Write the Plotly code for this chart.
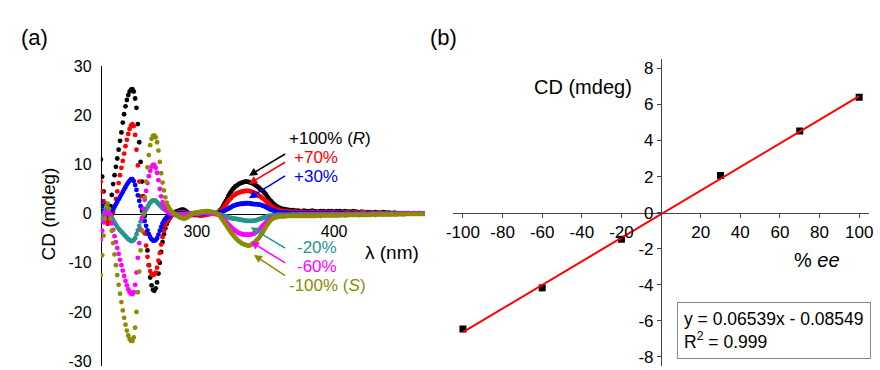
import numpy as np
import plotly.graph_objects as go

# ---------------- Panel (a) data: CD spectra ----------------
# wavelength grid (nm): 1 nm steps 230-360, then 2 nm steps 362-466
wl = np.concatenate([np.arange(230, 361, 1), np.arange(362, 467, 2)])

cd_p100 = [11, 7.5, 4.5, 2, 0, -1, -0.3, 1.5, 3.8, 6, 7.8, 9.5, 11.2, 13, 14.8, 16.5, 18.5, 20.2, 21.8, 23.1,
           24.1, 24.8, 25.2, 25.3, 24.8, 23.4, 21.5, 18.2, 14.5, 10.5, 6.5, 3.5, -0.5, -4, -7.5, -10.5, -13, -14.6, -15.5, -15.7,
           -15.2, -14, -12.2, -10, -7.8, -5.8, -4.2, -3, -2.1, -1.5, -1, -0.6, -0.3, 0, 0.2, 0.4, 0.5, 0.6, 0.7, 0.8,
           0.8, 0.7, 0.5, 0.3, 0.1, 0, -0.1, -0.2, -0.2, -0.2,
           -0.2, -0.2, -0.2, -0.1, -0.1, 0, 0, 0.1, 0.1, 0.1, 0.1, 0, 0, 0, 0.1, 0.2, 0.4, 0.7, 1.0, 1.5,
           2.0, 2.5, 3.0, 3.6, 4.1, 4.5, 4.9, 5.2, 5.5, 5.7, 5.9, 6.1, 6.2, 6.3, 6.4, 6.5, 6.5, 6.5, 6.4, 6.3,
           6.2, 6.1, 5.9, 5.7, 5.5, 5.3, 5.0, 4.8, 4.6, 4.3, 4.0, 3.6, 3.2, 2.8, 2.5, 2.2, 1.9, 1.7, 1.5, 1.3, 1.2,
           1.0, 0.9, 0.8, 0.7, 0.7, 0.6, 0.6, 0.5, 0.6, 0.5,
           0.5, 0.6, 0.5, 0.4, 0.5, 0.5, 0.4, 0.5, 0.5, 0.4,
           0.5, 0.5, 0.4, 0.5, 0.4, 0.4, 0.5, 0.4, 0.3, 0.4,
           0.3, 0.3, 0.3, 0.2, 0.3, 0.2, 0.2, 0.3, 0.2, 0.2,
           0.1, 0.2, 0.1, 0.1, 0.1, 0.1, 0.1, 0.0, 0.1, 0.0,
           0.1, 0.0, 0.0]

cd_p70 = [6.5, 4.5, 2.5, 0.5, -1.5, -2.1, -1.8, -1.0, -0.3, 0.3, 1.5, 3.0, 4.5, 6.2, 7.8, 9.3, 10.7, 12.2, 13.7, 15.0,
          16.2, 17.2, 17.9, 18.2, 17.8, 16.0, 13.0, 9.8, 6.5, 3.5, 1.0, -1.5, -4.0, -6.5, -8.8, -10.5, -11.7, -12.3, -12.5, -12.4,
          -12.0, -11.0, -9.6, -8.0, -6.3, -4.8, -3.5, -2.5, -1.7, -1.2, -0.8, -0.5, -0.3, -0.1, 0.0, 0.1, 0.2, 0.3, 0.3, 0.3,
          0.3, 0.2, 0.1, 0.0, -0.1, -0.2, -0.3, -0.3, -0.3, -0.3,
          -0.3, -0.3, -0.4, -0.4, -0.4, -0.3, -0.3, -0.2, -0.2, -0.1, -0.1, 0, 0, 0, 0.1, 0.2, 0.3, 0.5, 0.7, 1.0,
          1.4, 1.8, 2.2, 2.6, 2.9, 3.2, 3.5, 3.7, 3.9, 4.1, 4.2, 4.3, 4.4, 4.5, 4.5, 4.6, 4.6, 4.6, 4.6, 4.5,
          4.4, 4.3, 4.2, 4.1, 3.9, 3.7, 3.5, 3.3, 3.1, 2.9, 2.6, 2.4, 2.1, 1.8, 1.6, 1.4, 1.2, 1.0, 0.9, 0.8, 0.7,
          0.6, 0.5, 0.5, 0.4, 0.4, 0.4, 0.3, 0.4, 0.3, 0.3,
          0.3, 0.4, 0.3, 0.3, 0.3, 0.3, 0.2, 0.3, 0.3, 0.2,
          0.3, 0.2, 0.2, 0.3, 0.2, 0.2, 0.3, 0.2, 0.2, 0.3,
          0.3, 0.2, 0.2, 0.2, 0.1, 0.2, 0.2, 0.1, 0.1, 0.2,
          0.1, 0.1, 0.1, 0.0, 0.1, 0.0, 0.1, 0.0, 0.0, 0.0,
          0.0, 0.0, 0.0]

cd_p30 = [2.5, 1.5, 0.6, 0.0, -0.4, -0.4, -0.1, 0.2, 0.5, 0.9, 1.4, 1.9, 2.4, 2.9, 3.4, 3.9, 4.4, 4.9, 5.4, 5.9,
          6.3, 6.7, 7.0, 7.0, 6.6, 5.8, 4.8, 3.7, 2.6, 1.5, 0.5, -0.5, -1.5, -2.5, -3.4, -4.2, -4.8, -5.2, -5.5, -5.5,
          -5.4, -5.0, -4.3, -3.5, -2.7, -2.0, -1.5, -1.1, -0.8, -0.6, -0.4, -0.3, -0.2, -0.1, 0.0, 0.1, 0.1, 0.1, 0.1, 0.1,
          0.1, 0.0, 0.0, 0.0, -0.1, -0.1, -0.1, -0.1, -0.1, -0.1,
          -0.1, -0.1, -0.1, -0.1, 0, 0, 0, 0.1, 0.1, 0.1, 0, 0, 0, 0, 0, 0.1, 0.1, 0.2, 0.3, 0.4,
          0.6, 0.7, 0.9, 1.0, 1.2, 1.3, 1.5, 1.6, 1.7, 1.8, 1.9, 1.9, 2.0, 2.0, 2.0, 2.1, 2.1, 2.1, 2.1, 2.0,
          2.0, 1.9, 1.9, 1.9, 1.9, 1.8, 1.8, 1.7, 1.6, 1.5, 1.4, 1.2, 1.1, 0.9, 0.8, 0.7, 0.6, 0.5, 0.4, 0.3, 0.3,
          0.2, 0.2, 0.2, 0.1, 0.1, 0.1, 0.1, 0.1, 0.1, 0.1,
          0.1, 0.1, 0.1, 0.1, 0.1, 0.0, 0.1, 0.1, 0.0, 0.1,
          0.1, 0.0, 0.1, 0.0, 0.1, 0.0, 0.0, 0.1, 0.0, 0.0,
          0.0, 0.0, 0.1, 0.0, 0.0, 0.0, 0.0, 0.0, 0.0, 0.0,
          0.0, 0.0, 0.0, 0.0, 0.0, 0.0, 0.0, 0.0, 0.0, 0.0,
          0.0, 0.0, 0.0]

cd_m20 = [-1.4, -0.8, -0.2, 0.4, 0.8, 0.6, 0.2, -0.3, -0.8, -1.3, -1.8, -2.3, -2.7, -3.1, -3.4, -3.7, -4.0, -4.3, -4.6, -4.9,
          -5.2, -5.4, -5.6, -5.6, -5.4, -5.0, -4.2, -3.4, -2.5, -1.6, -0.9, -0.3, 0.2, 0.8, 1.3, 1.8, 2.2, 2.5, 2.7, 2.7,
          2.6, 2.3, 2.0, 1.7, 1.4, 1.1, 0.9, 0.7, 0.5, 0.4, 0.3, 0.2, 0.1, 0.0, -0.1, -0.1, -0.2, -0.2, -0.2, -0.2,
          -0.2, -0.2, -0.1, -0.1, 0.0, 0.0, 0.0, 0.0, 0.0, 0.0,
          0.0, 0.0, 0.0, 0.1, 0.1, 0.1, 0.1, 0.1, 0.1, 0.1, 0.0, 0.0, 0.0, 0.0, -0.1, -0.1, -0.2, -0.2, -0.3, -0.4,
          -0.5, -0.6, -0.7, -0.8, -0.9, -0.9, -1.0, -1.0, -1.1, -1.1, -1.2, -1.2, -1.3, -1.3, -1.4, -1.4, -1.5, -1.5, -1.5, -1.5,
          -1.5, -1.5, -1.4, -1.4, -1.3, -1.2, -1.1, -1.0, -0.9, -0.8, -0.7, -0.6, -0.5, -0.5, -0.4, -0.4, -0.3, -0.3, -0.3, -0.2, -0.2,
          -0.2, -0.2, -0.2, -0.2, -0.1, -0.2, -0.1, -0.1, -0.1, -0.1,
          -0.1, -0.1, -0.1, -0.1, -0.1, -0.1, -0.1, -0.1, -0.1, -0.1,
          -0.1, -0.1, -0.1, -0.1, 0.0, -0.1, -0.1, 0.0, -0.1, 0.0,
          0.0, -0.1, 0.0, 0.0, 0.0, 0.0, 0.0, 0.0, 0.0, 0.0,
          0.0, 0.0, 0.0, 0.0, 0.0, 0.0, 0.0, 0.0, 0.0, 0.0,
          0.0, 0.0, 0.0]

cd_m60 = [-5.3, -3.5, -1.8, -0.5, 0.3, 0.5, 0.0, -0.8, -2.0, -3.3, -4.6, -5.8, -7.0, -8.2, -9.4, -10.5, -11.6, -12.7, -13.7, -14.6,
          -15.4, -16.0, -16.3, -16.4, -16.0, -14.5, -12.0, -9.0, -6.0, -3.2, -1.0, 1.0, 2.8, 4.6, 6.2, 7.6, 8.7, 9.5, 9.9, 9.9,
          9.3, 8.3, 6.8, 5.0, 3.5, 2.3, 1.5, 0.9, 0.5, 0.3, 0.1, 0.0, -0.1, -0.2, -0.3, -0.3, -0.4, -0.4, -0.4, -0.4,
          -0.4, -0.3, -0.3, -0.2, -0.1, 0.0, 0.0, 0.1, 0.1, 0.1,
          0.1, 0.1, 0.1, 0.2, 0.2, 0.2, 0.2, 0.2, 0.2, 0.1, 0.1, 0.0, 0.0, -0.1, -0.1, -0.2, -0.3, -0.5, -0.7, -1.0,
          -1.3, -1.6, -1.9, -2.2, -2.5, -2.8, -3.0, -3.3, -3.5, -3.7, -3.9, -4.0, -4.1, -4.2, -4.3, -4.3, -4.3, -4.3, -4.3, -4.3,
          -4.2, -4.1, -4.0, -3.8, -3.6, -3.4, -3.1, -2.8, -2.5, -2.2, -1.9, -1.6, -1.4, -1.2, -1.0, -0.9, -0.8, -0.7, -0.6, -0.6, -0.5,
          -0.5, -0.4, -0.4, -0.4, -0.4, -0.4, -0.3, -0.4, -0.3, -0.3,
          -0.3, -0.3, -0.3, -0.3, -0.3, -0.3, -0.3, -0.2, -0.3, -0.3,
          -0.3, -0.2, -0.3, -0.2, -0.3, -0.2, -0.2, -0.2, -0.3, -0.2,
          -0.2, -0.2, -0.2, -0.1, -0.2, -0.1, -0.1, -0.2, -0.1, -0.1,
          -0.1, -0.1, -0.1, -0.1, 0.0, -0.1, 0.0, 0.0, 0.0, 0.0,
          0.0, 0.0, 0.0]

cd_m100 = [-12.5, -8.5, -4.5, -1.0, 1.5, 2.0, 1.0, -1.0, -3.5, -6.0, -8.3, -10.5, -12.5, -14.5, -16.3, -18.0, -19.7, -21.2, -22.6, -23.8,
           -24.8, -25.5, -25.9, -25.9, -25.2, -23.2, -20.0, -16.0, -11.8, -7.5, -3.5, 0.0, 3.3, 6.5, 9.4, 11.9, 13.9, 15.2, 15.8, 15.9,
           15.5, 14.5, 12.8, 10.5, 8.2, 6.3, 4.7, 3.3, 2.2, 1.5, 1.0, 0.6, 0.3, 0.1, -0.1, -0.3, -0.5, -0.7, -0.8, -0.9,
           -1.0, -1.0, -0.9, -0.8, -0.6, -0.4, -0.2, 0.0, 0.1, 0.2,
           0.2, 0.3, 0.3, 0.4, 0.4, 0.4, 0.5, 0.5, 0.5, 0.4, 0.4, 0.3, 0.3, 0.2, 0.1, -0.1, -0.3, -0.6, -1.0, -1.4,
           -1.8, -2.2, -2.7, -3.1, -3.5, -3.9, -4.2, -4.6, -4.9, -5.2, -5.5, -5.7, -5.9, -6.1, -6.2, -6.3, -6.4, -6.5, -6.5, -6.4,
           -6.3, -6.1, -5.9, -5.6, -5.3, -5.0, -4.6, -4.2, -3.8, -3.3, -2.9, -2.4, -2.0, -1.6, -1.3, -1.1, -0.9, -0.8, -0.7, -0.7, -0.6,
           -0.6, -0.6, -0.5, -0.5, -0.5, -0.5, -0.5, -0.5, -0.5, -0.5,
           -0.5, -0.5, -0.5, -0.4, -0.5, -0.4, -0.4, -0.4, -0.4, -0.4,
           -0.4, -0.4, -0.3, -0.4, -0.3, -0.3, -0.3, -0.3, -0.3, -0.3,
           -0.3, -0.3, -0.3, -0.2, -0.3, -0.2, -0.2, -0.2, -0.2, -0.2,
           -0.2, -0.2, -0.2, -0.1, -0.2, -0.1, -0.1, -0.1, -0.1, -0.1,
           -0.1, -0.1, -0.1]

series_names = ["+100% (R)", "+70%", "+30%", "-20%", "-60%", "-100% (S)"]
series_vals = [cd_p100, cd_p70, cd_p30, cd_m20, cd_m60, cd_m100]
series_cols = ["#000000", "#ff0000", "#0000ff", "#24968f", "#ff00ff", "#8c8c00"]

a_xticks = [300, 400]
a_yticks = [-30, -20, -10, 0, 10, 20, 30]

# ---------------- Panel (b) data: CD vs ee ----------------
ee = [-100, -60, -20, 30, 70, 100]
cd_ee = [-6.45, -4.17, -1.47, 2.06, 4.52, 6.40]
fit_slope = 0.06539
fit_icpt = -0.08549
b_xticks = [-100, -80, -60, -40, -20, 20, 40, 60, 80, 100]
b_yticks = [-8, -6, -4, -2, 0, 2, 4, 6, 8]

W, H = 880, 370
FONT = "Arial, Liberation Sans, sans-serif"

fig = go.Figure()

for name, vals, col in zip(series_names, series_vals, series_cols):
    assert len(vals) == len(wl), (name, len(vals))
    fig.add_trace(go.Scatter(x=wl, y=vals, mode="markers", name=name,
                             marker=dict(color=col, size=4.8, line=dict(width=0)),
                             xaxis="x", yaxis="y", showlegend=False))

fig.add_trace(go.Scatter(x=ee, y=cd_ee, mode="markers",
                         marker=dict(symbol="square", color="black", size=7, line=dict(width=0)),
                         xaxis="x2", yaxis="y2", showlegend=False))
fit_x = [ee[0], ee[-1]]
fit_y = [fit_slope * v + fit_icpt for v in fit_x]
fig.add_trace(go.Scatter(x=fit_x, y=fit_y, mode="lines",
                         line=dict(color="#ff0000", width=2),
                         xaxis="x2", yaxis="y2", showlegend=False))

# ---- geometry ----
ax_dom = [95 / W, 423 / W]
ay_rng = [-31, 30]
ay_dom = [0, (H - 60) / H]
ax_pos = ay_dom[0] + (0 - ay_rng[0]) / (ay_rng[1] - ay_rng[0]) * (ay_dom[1] - ay_dom[0])

bx_rng = [-105, 105]
bx_dom = [451.7 / W, 873 / W]
by_rng = [-8.5, 8.5]
by_dom = [0, (H - 53) / H]
bx_pos = by_dom[0] + 0.5 * (by_dom[1] - by_dom[0])
by_pos = bx_dom[0] + 0.5 * (bx_dom[1] - bx_dom[0])

def lab(v):
    return str(v)

tickfont_a = dict(family=FONT, size=16, color="black")
tickfont_b = dict(family=FONT, size=17, color="black")
bcol = "#444444"

fig.update_layout(
    width=W, height=H, margin=dict(l=0, r=0, t=0, b=0),
    paper_bgcolor="white", plot_bgcolor="white",
    font=dict(family=FONT, color="black"),
    xaxis=dict(domain=ax_dom, range=[230, 466], anchor="free", position=ax_pos,
               showline=True, linecolor="black", linewidth=1, showgrid=False, zeroline=False,
               ticks="inside", ticklen=4, tickcolor="black", tickvals=a_xticks,
               ticktext=[lab(v) for v in a_xticks], tickfont=tickfont_a,
               ticklabelstandoff=3, ticklabeloverflow="allow", layer="below traces"),
    yaxis=dict(domain=ay_dom, range=ay_rng, anchor="free", position=ax_dom[0],
               showline=True, linecolor="black", linewidth=1, showgrid=False, zeroline=False,
               ticks="", tickvals=a_yticks, ticktext=[lab(v) for v in a_yticks],
               tickfont=tickfont_a, ticklabelstandoff=6, ticklabeloverflow="allow",
               layer="below traces"),
    xaxis2=dict(domain=bx_dom, range=bx_rng, anchor="free", position=bx_pos,
                showline=True, linecolor=bcol, linewidth=1.2, showgrid=False, zeroline=False,
                ticks="outside", ticklen=4, tickcolor=bcol, tickwidth=1.2, tickvals=b_xticks,
                ticktext=[lab(v) for v in b_xticks], tickfont=tickfont_b, ticklabeloverflow="allow"),
    xaxis3=dict(domain=bx_dom, range=bx_rng, anchor="free", position=bx_pos, overlaying="x2",
                showline=False, showgrid=False, zeroline=False, ticks="inside", ticklen=4,
                tickcolor=bcol, tickwidth=1.2, tickvals=b_xticks, showticklabels=False),
    yaxis2=dict(domain=by_dom, range=by_rng, anchor="free", position=by_pos,
                showline=True, linecolor=bcol, linewidth=1.2, showgrid=False, zeroline=False,
                ticks="outside", ticklen=4, tickcolor=bcol, tickwidth=1.2, tickvals=b_yticks,
                ticktext=[lab(v) for v in b_yticks], tickfont=tickfont_b, ticklabeloverflow="allow"),
    yaxis3=dict(domain=by_dom, range=by_rng, anchor="free", position=by_pos, overlaying="y2",
                showline=False, showgrid=False, zeroline=False, ticks="inside", ticklen=4,
                tickcolor=bcol, tickwidth=1.2, tickvals=b_yticks, showticklabels=False),
)

ann = []
def ptext(text, px, py, size, xanchor="center", yanchor="middle", angle=0, color="black"):
    ann.append(dict(text=text, x=px / W, y=1 - py / H, xref="paper", yref="paper",
                    xanchor=xanchor, yanchor=yanchor, showarrow=False, textangle=angle,
                    font=dict(family=FONT, size=size, color=color)))

ptext("(a)", 28, 31, 22)
ptext("(b)", 442, 31, 22)
ptext("CD (mdeg)", 42, 213, 19, angle=-90)
ptext("λ (nm)", 361, 253, 19, xanchor="left")
ptext("CD (mdeg)", 583, 82, 20)
ptext("% <i>ee</i>", 820, 260, 20)

label_text = ["+100% (<i>R</i>)", "+70%", "+30%", "-20%", "-60%", "-100% (<i>S</i>)"]
label_pos = [(284, 135), (288.5, 155), (288.5, 174), (292, 248), (292, 267), (284, 287)]
for t, (px, py), col in zip(label_text, label_pos, series_cols):
    ptext(t, px, py, 17, xanchor="left", color=col)

# arrows (head position in data coords, tail offset in px)
arrow_heads = [(337.9, 7.7, 37.7, -22.6), (337.9, 6.0, 37.7, -22.7), (337.9, 3.1, 37.7, -23.4),
               (339.2, -2.8, 36, 21.6), (339.2, -5.7, 36, 22.3), (341.5, -8.4, 32.7, 21.7)]
for (hx, hy, dx, dy), col in zip(arrow_heads, series_cols):
    ann.append(dict(text="", x=hx, y=hy, xref="x", yref="y", ax=dx, ay=dy,
                    showarrow=True, arrowhead=2, arrowsize=1.1, arrowwidth=1.5, arrowcolor=col))

# equation box
ann.append(dict(text="y = 0.06539x - 0.08549<br>R<sup>2</sup> = 0.999", x=678 / W, y=1 - 304 / H,
                xref="paper", yref="paper", xanchor="left", yanchor="top", align="left",
                showarrow=False, bordercolor="#888888", borderwidth=1, borderpad=6, bgcolor="white",
                font=dict(family=FONT, size=17.5, color="black")))

fig.update_layout(annotations=ann)
fig.write_html("out.html", config={"displayModeBar": False},
               post_script="document.body.style.margin='0';document.body.style.overflow='hidden';")
